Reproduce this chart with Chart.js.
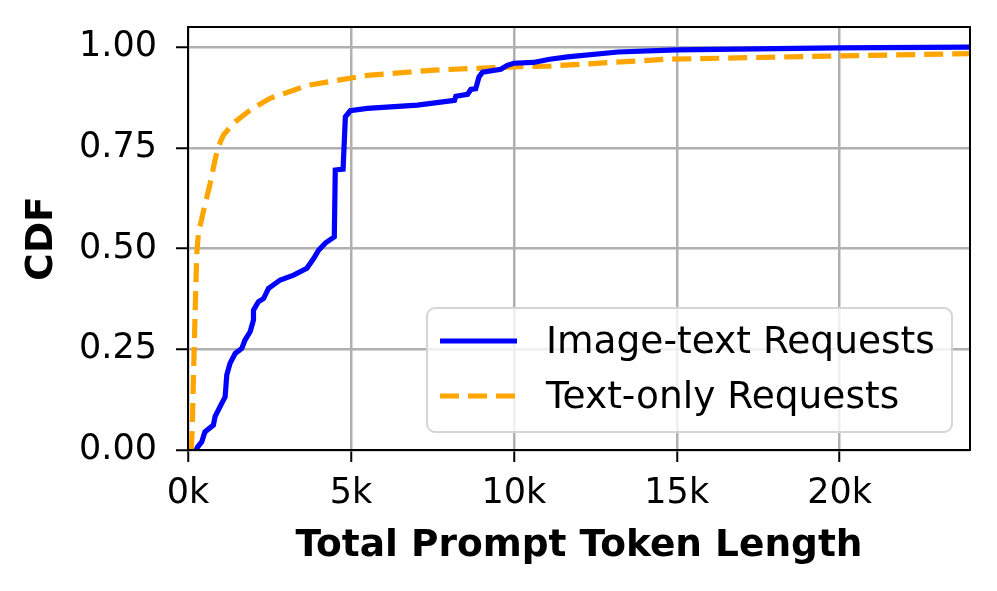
<!DOCTYPE html>
<html>
<head>
<meta charset="utf-8">
<script src="https://cdn.jsdelivr.net/npm/chart.js@4/dist/chart.umd.min.js"></script>
<style>
  body { margin: 0; background: #fff; }
</style>
</head>
<body>
<canvas id="cdf" width="997" height="591"></canvas>
<script>
// values (x in tokens, y as CDF)
const imageTextX = [250, 300, 420, 520, 780, 830, 980, 1140, 1190, 1290, 1450, 1650, 1750, 1910, 2010, 2010, 2160, 2320, 2470, 2830, 3240, 3650, 3860, 4010, 4220, 4490, 4520, 4760, 4830, 4980, 5500, 7040, 8180, 8220, 8580, 8680, 8830, 8930, 9040, 9600, 9800, 10000, 10600, 11100, 11650, 13200, 15000, 19900, 24000];
const imageTextY = [0, 0.008, 0.02, 0.045, 0.062, 0.083, 0.107, 0.132, 0.186, 0.215, 0.24, 0.252, 0.273, 0.294, 0.323, 0.347, 0.368, 0.376, 0.401, 0.422, 0.434, 0.451, 0.476, 0.496, 0.514, 0.529, 0.695, 0.697, 0.827, 0.842, 0.848, 0.856, 0.868, 0.878, 0.883, 0.895, 0.897, 0.926, 0.938, 0.945, 0.955, 0.96, 0.962, 0.97, 0.976, 0.988, 0.993, 0.998, 1.0];

const textOnlyX = [100, 130, 160, 220, 270, 320, 470, 680, 830, 930, 1090, 1390, 1910, 2520, 3240, 3650, 5500, 7550, 9600, 11100, 14700, 19850, 24000];
const textOnlyY = [0, 0.05, 0.157, 0.347, 0.488, 0.538, 0.591, 0.662, 0.72, 0.753, 0.782, 0.811, 0.844, 0.873, 0.893, 0.905, 0.93, 0.943, 0.95, 0.953, 0.97, 0.978, 0.984];

const seriesLabels = ['Image-text Requests', 'Text-only Requests'];
const xTicks = [0, 5000, 10000, 15000, 20000];
const yTicks = [0, 0.25, 0.5, 0.75, 1.0];

const toPoints = (xs, ys) => xs.map((x, i) => ({ x: x, y: ys[i] }));

Chart.defaults.font.family = '"DejaVu Sans", sans-serif';
Chart.defaults.color = '#000';

// box around the plot area, like matplotlib spines
const frame = {
    id: 'frame',
    afterDatasetsDraw(chart) {
        const { ctx, chartArea: a } = chart;
        ctx.save();
        ctx.strokeStyle = '#000';
        ctx.lineWidth = 2;
        ctx.strokeRect(a.left, a.top, a.right - a.left, a.bottom - a.top);
        ctx.restore();
    }
};

// legend drawn inside the axes, lower right
const innerLegend = {
    id: 'innerLegend',
    afterDraw(chart) {
        const ctx = chart.ctx;
        const x = 427, y = 308, w = 525, h = 124, r = 8;
        ctx.save();
        ctx.beginPath();
        ctx.roundRect(x, y, w, h, r);
        ctx.fillStyle = 'rgba(255,255,255,0.8)';
        ctx.fill();
        ctx.strokeStyle = '#d5d5d5';
        ctx.lineWidth = 2;
        ctx.stroke();

        ctx.font = '37.5px "DejaVu Sans"';
        ctx.textBaseline = 'middle';
        ctx.fillStyle = '#000';
        chart.data.datasets.forEach((ds, i) => {
            const cy = 341 + i * 55;
            ctx.beginPath();
            ctx.strokeStyle = ds.borderColor;
            ctx.lineWidth = ds.borderWidth;
            ctx.setLineDash(ds.borderDash || []);
            ctx.moveTo(440, cy);
            ctx.lineTo(517, cy);
            ctx.stroke();
            ctx.setLineDash([]);
            ctx.fillText(ds.label, 546, cy + 2);
        });
        ctx.restore();
    }
};

const ctx = document.getElementById('cdf').getContext('2d');

new Chart(ctx, {
    type: 'line',
    data: {
        datasets: [
            {
                label: seriesLabels[0],
                data: toPoints(imageTextX, imageTextY),
                borderColor: '#0000ff',
                borderWidth: 5.2,
                pointRadius: 0,
                tension: 0,
                fill: false
            },
            {
                label: seriesLabels[1],
                data: toPoints(textOnlyX, textOnlyY),
                borderColor: '#ffa500',
                borderWidth: 5.2,
                borderDash: [19, 9],
                pointRadius: 0,
                tension: 0,
                fill: false
            }
        ]
    },
    options: {
        responsive: false,
        animation: false,
        devicePixelRatio: 1,
        layout: {
            padding: { top: 27, right: 27, left: 0, bottom: 0 }
        },
        plugins: {
            legend: { display: false },
            tooltip: { enabled: false }
        },
        scales: {
            x: {
                type: 'linear',
                min: 0,
                max: 24000,
                afterBuildTicks: (scale) => {
                    scale.ticks = xTicks.map(v => ({ value: v }));
                },
                afterFit: (scale) => {
                    scale.height = 141;
                    scale.paddingLeft = 0;
                    scale.paddingRight = 0;
                },
                border: { display: false },
                grid: {
                    color: '#b0b0b0',
                    lineWidth: 2.5,
                    tickColor: '#000',
                    tickWidth: 2,
                    tickLength: 12
                },
                ticks: {
                    padding: 11,
                    maxRotation: 0,
                    font: { size: 35 },
                    callback: (value) => (value / 1000) + 'k'
                },
                title: {
                    display: true,
                    text: 'Total Prompt Token Length',
                    font: { size: 37.5, weight: 'bold' },
                    padding: { top: 4, bottom: 22 }
                }
            },
            y: {
                min: 0,
                max: 1.05,
                afterBuildTicks: (scale) => {
                    scale.ticks = yTicks.map(v => ({ value: v }));
                },
                afterFit: (scale) => {
                    scale.width = 188;
                    scale.paddingTop = 0;
                    scale.paddingBottom = 0;
                },
                border: { display: false },
                grid: {
                    color: '#b0b0b0',
                    lineWidth: 2.5,
                    tickColor: '#000',
                    tickWidth: 2,
                    tickLength: 12
                },
                ticks: {
                    padding: 19,
                    font: { size: 35 },
                    callback: (value) => value.toFixed(2)
                },
                title: {
                    display: true,
                    text: 'CDF',
                    font: { size: 37.5, weight: 'bold' },
                    padding: { top: 20, bottom: 0 }
                }
            }
        }
    },
    plugins: [frame, innerLegend]
});
</script>
</body>
</html>
